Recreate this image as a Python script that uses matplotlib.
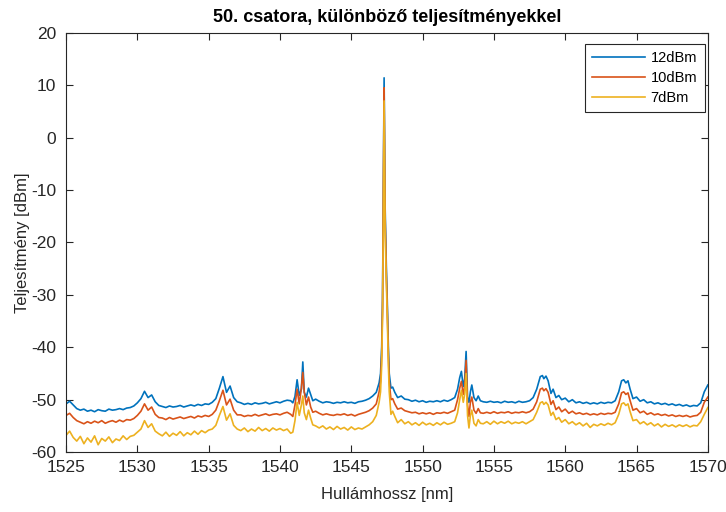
import matplotlib
matplotlib.use('Agg')
from matplotlib import pyplot as plt

# hullámhossz [nm] és a három mért spektrum [dBm]
hullamhossz = [
    1525.00, 1525.25, 1525.50, 1525.75, 1526.00, 1526.25, 1526.50, 1526.75, 1527.00, 1527.25,
    1527.50, 1527.75, 1528.00, 1528.25, 1528.50, 1528.75, 1529.00, 1529.25, 1529.50, 1529.75,
    1530.00, 1530.25, 1530.50, 1530.75, 1531.00, 1531.25, 1531.50,
    1531.75, 1532.00, 1532.25, 1532.50, 1532.75, 1533.00, 1533.25, 1533.50, 1533.75, 1534.00,
    1534.25, 1534.50, 1534.75, 1535.00, 1535.25,
    1535.50, 1535.75, 1536.00, 1536.25, 1536.50, 1536.75, 1537.00,
    1537.25, 1537.50, 1537.75, 1538.00, 1538.25, 1538.50, 1538.75, 1539.00, 1539.25, 1539.50,
    1539.75, 1540.00, 1540.25, 1540.50,
    1540.75, 1540.90, 1541.05, 1541.20, 1541.35, 1541.50, 1541.60, 1541.70, 1541.85, 1542.00,
    1542.15, 1542.30, 1542.50,
    1542.75, 1543.00, 1543.25, 1543.50, 1543.75, 1544.00, 1544.25, 1544.50, 1544.75, 1545.00,
    1545.25, 1545.50, 1545.75, 1546.00, 1546.25, 1546.50,
    1546.75, 1546.95, 1547.05, 1547.13, 1547.19, 1547.24, 1547.27, 1547.30, 1547.33, 1547.37,
    1547.46, 1547.52, 1547.60, 1547.66, 1547.78, 1547.90, 1548.05,
    1548.25, 1548.50, 1548.75, 1549.00, 1549.25, 1549.50, 1549.75, 1550.00, 1550.25, 1550.50,
    1550.75, 1551.00, 1551.25, 1551.50, 1551.75, 1552.00, 1552.25, 1552.45,
    1552.60, 1552.72, 1552.85, 1552.95, 1553.05, 1553.15, 1553.25, 1553.35, 1553.45, 1553.60,
    1553.75, 1553.90, 1554.05,
    1554.25, 1554.50, 1554.75, 1555.00, 1555.25, 1555.50, 1555.75, 1556.00, 1556.25, 1556.50,
    1556.75, 1557.00, 1557.25, 1557.50, 1557.75,
    1558.00, 1558.25, 1558.40, 1558.50, 1558.65, 1558.80, 1559.00, 1559.15, 1559.35, 1559.55,
    1559.75, 1560.00, 1560.25, 1560.50,
    1560.75, 1561.00, 1561.25, 1561.50, 1561.75, 1562.00, 1562.25, 1562.50, 1562.75, 1563.00,
    1563.25, 1563.50, 1563.75,
    1563.95, 1564.10, 1564.25, 1564.40, 1564.55, 1564.75, 1565.00, 1565.25, 1565.50,
    1565.75, 1566.00, 1566.25, 1566.50, 1566.75, 1567.00, 1567.25, 1567.50, 1567.75, 1568.00,
    1568.25, 1568.50, 1568.75, 1569.00, 1569.25, 1569.50, 1569.75, 1570.00,
]

p12 = [
    -50.8, -50.3, -51.0, -51.7, -52.0, -51.8, -52.2, -52.0, -52.3, -51.9,
    -52.1, -52.2, -51.8, -52.0, -51.9, -51.7, -51.9, -51.6, -51.5, -51.2,
    -50.6, -49.8, -48.4, -49.6, -49.1, -50.4, -51.1,
    -51.3, -51.5, -51.2, -51.4, -51.3, -51.1, -51.4, -51.2, -51.0, -51.2,
    -50.9, -51.1, -50.8, -50.9, -50.5,
    -49.8, -47.8, -45.6, -48.6, -47.4, -49.6, -50.4,
    -50.6, -50.9, -50.7, -50.9, -50.6, -50.8, -50.7, -50.5, -50.8, -50.6,
    -50.4, -50.6, -50.3, -50.1,
    -50.2, -50.6, -49.4, -46.2, -49.2, -48.0, -42.8, -48.6, -49.5, -47.8,
    -49.0, -50.2, -49.9,
    -50.3, -50.6, -50.4, -50.5, -50.7, -50.5, -50.6, -50.4, -50.6, -50.5,
    -50.7, -50.4, -50.3, -50.1, -49.8, -49.3,
    -48.6, -46.8, -45.0, -40.0, -31.0, -13.0, 0.0, 11.4, 0.0, -13.0,
    -25.0, -31.0, -40.0, -45.0, -47.8, -47.6, -48.6,
    -49.6, -49.3, -49.9, -50.0, -50.3, -50.1, -50.4, -50.2, -50.5, -50.3,
    -50.4, -50.2, -50.4, -50.1, -50.3, -50.0, -49.6, -48.0,
    -45.8, -44.6, -47.5, -46.0, -40.8, -49.5, -50.5, -48.5, -47.2, -49.6,
    -50.2, -49.3, -50.2,
    -50.4, -50.5, -50.3, -50.5, -50.4, -50.6, -50.3, -50.5, -50.4, -50.6,
    -50.3, -50.5, -50.4, -50.2, -49.6,
    -48.0, -45.6, -45.4, -46.0, -45.5, -46.4, -48.8, -48.0, -49.6, -49.2,
    -50.0, -49.7, -50.4, -50.0,
    -50.6, -50.4, -50.7, -50.5, -50.8, -50.6, -50.8, -50.5, -50.7, -50.5,
    -50.6, -50.2, -48.5,
    -46.4, -46.2, -46.8, -46.4, -48.0, -49.8, -49.5, -50.3, -50.0,
    -50.6, -50.4, -50.8, -50.6, -50.9, -50.7, -51.0, -50.8, -51.1, -50.9,
    -51.2, -51.0, -51.3, -51.1, -51.2, -50.6, -48.5, -47.2,
]

p10 = [
    -53.0, -52.6, -53.4, -54.0, -54.3, -54.6, -54.2, -54.5, -54.1, -54.4,
    -54.0, -54.5, -54.2, -54.0, -54.3, -53.9, -54.2, -53.8, -53.9, -53.6,
    -53.0, -52.2, -50.8, -52.0, -51.4, -52.8, -53.4,
    -53.5, -53.8, -53.4, -53.7, -53.5, -53.3, -53.6, -53.4, -53.2, -53.5,
    -53.1, -53.3, -53.0, -53.2, -52.8,
    -52.0, -50.2, -48.2, -51.0, -49.9, -52.0, -52.9,
    -52.9, -53.2, -53.0, -53.1, -52.8, -53.1, -52.9, -52.7, -53.0, -52.8,
    -52.7, -52.9, -52.6, -52.4,
    -52.8, -53.2, -51.0, -48.0, -50.8, -47.8, -44.8, -48.5, -51.0, -49.5,
    -51.4, -52.4, -52.2,
    -52.6, -52.9, -52.7, -52.9, -53.0, -52.8, -52.9, -52.7, -53.0, -52.8,
    -53.1, -52.8, -52.6, -52.4, -52.1, -51.6,
    -50.8, -48.5, -46.5, -41.5, -32.5, -15.0, -2.0, 9.5, -2.0, -15.0,
    -26.5, -32.5, -41.5, -46.5, -50.0, -49.8, -50.8,
    -51.8, -51.6, -52.1, -52.3, -52.5, -52.4, -52.7, -52.5, -52.7, -52.5,
    -52.8, -52.5, -52.6, -52.4, -52.6, -52.3, -52.0, -50.0,
    -47.8, -46.5, -49.0, -47.5, -42.5, -51.0, -53.2, -50.5, -49.5, -52.0,
    -52.6, -51.7, -52.5,
    -52.6, -52.4, -52.6, -52.3, -52.6, -52.4, -52.5, -52.3, -52.6, -52.4,
    -52.5, -52.3, -52.5, -52.3, -51.8,
    -50.4, -48.0, -47.8, -48.3, -47.9, -48.6, -50.9, -50.2, -51.9, -51.4,
    -52.3, -51.8, -52.6, -52.2,
    -52.7, -52.5, -52.8, -52.6, -52.9, -52.7, -52.9, -52.6, -52.8, -52.6,
    -52.7, -52.4, -50.8,
    -48.7, -48.5, -49.0, -48.7, -50.2, -52.0, -51.7, -52.5, -52.2,
    -52.8, -52.5, -52.9, -52.7, -53.0, -52.8, -53.1, -52.9, -53.2, -53.0,
    -53.2, -53.0, -53.3, -53.1, -53.0, -52.4, -50.5, -49.5,
]

p7 = [
    -56.8, -56.0, -57.2, -57.9, -57.0, -58.4, -57.3, -58.1, -56.9, -58.6,
    -57.4, -57.9, -57.1, -58.2, -57.5, -57.8, -56.9, -57.6, -57.0, -56.8,
    -56.2, -55.6, -54.0, -55.3, -54.6, -56.0, -56.5,
    -56.9, -56.2, -57.0, -56.4, -56.8, -56.1, -56.9, -56.3, -56.7, -56.0,
    -56.6, -55.9, -56.3, -55.8, -55.6,
    -54.9, -53.0, -51.3, -53.9, -52.7, -54.9, -55.6,
    -55.9, -55.4, -56.1, -55.6, -56.0, -55.3, -55.9, -55.5, -56.0, -55.4,
    -55.8, -55.5, -55.9, -55.6,
    -56.4, -56.2, -54.0, -50.5, -53.0, -51.0, -49.3, -52.5, -53.8, -52.0,
    -53.5, -54.8, -55.0,
    -55.4, -55.0, -55.6, -55.2, -55.7, -55.1, -55.6, -55.3, -55.8, -55.2,
    -55.7, -55.4, -55.6, -55.2, -54.8, -54.2,
    -53.0, -50.5, -48.5, -43.5, -34.0, -17.5, -4.5, 7.0, -4.5, -17.5,
    -28.0, -34.0, -43.5, -48.5, -52.8, -52.2, -53.2,
    -54.4, -53.8, -54.6, -54.2, -54.8, -54.4, -54.9, -54.3, -54.8, -54.5,
    -54.9, -54.4, -54.8, -54.3, -54.7, -54.5, -54.2, -52.5,
    -50.0, -48.2, -50.5, -49.0, -45.0, -53.0, -55.4, -53.0, -52.0, -54.5,
    -55.0, -53.8, -54.5,
    -54.6, -54.2, -54.7, -54.1, -54.6, -54.2, -54.5, -54.1, -54.6, -54.3,
    -54.5, -54.2, -54.6, -54.2, -53.8,
    -52.4, -50.6, -50.4, -50.9, -50.5, -51.0, -53.0, -52.4, -53.8, -53.4,
    -54.3, -53.8, -54.6, -54.2,
    -54.8, -54.4, -55.0, -54.5, -55.3, -54.7, -55.0, -54.6, -54.9, -54.5,
    -54.8, -54.4, -52.8,
    -50.8, -50.6, -51.1, -50.8, -52.3, -54.0, -53.8, -54.6, -54.2,
    -54.8, -54.4, -55.0, -54.6, -55.2, -54.7, -55.1, -54.8, -55.2, -54.8,
    -55.1, -54.8, -55.2, -54.9, -55.0, -54.2, -52.8, -51.5,
]

cimkek = ['12dBm', '10dBm', '7dBm']
szinek = ['#0072BD', '#D95319', '#EDB120']

plt.rcParams['font.family'] = ['Liberation Sans', 'DejaVu Sans']
plt.rcParams['axes.unicode_minus'] = False

fig = plt.figure(figsize=(7.26, 5.12), dpi=100)
ax = fig.add_axes([0.091, 0.117, 0.884, 0.819])

for adat, cimke, szin in zip([p12, p10, p7], cimkek, szinek):
    ax.plot(hullamhossz, adat, color=szin, linewidth=1.2, label=cimke)

ax.set_xlim(1525, 1570)
ax.set_ylim(-60, 20)
ax.set_xticks(range(1525, 1571, 5))
ax.set_yticks(range(-60, 21, 10))
ax.tick_params(direction='in', top=True, right=True, labelsize=12.5,
               colors='#262626', length=5, width=0.8)
ax.tick_params(axis='x', pad=6)
ax.tick_params(axis='y', pad=7)
for s in ax.spines.values():
    s.set_color('#262626')
    s.set_linewidth(0.8)

ax.set_xlabel('Hullámhossz [nm]', fontsize=12, color='#262626', labelpad=8)
ax.set_ylabel('Teljesítmény [dBm]', fontsize=12, color='#262626', labelpad=1)
ax.set_title('50. csatora, különböző teljesítményekkel', fontsize=13,
             fontweight='bold', pad=8)

leg = ax.legend(loc='upper right', bbox_to_anchor=(0.995, 0.974), fontsize=10.5,
                handlelength=3.6, handletextpad=0.4, borderpad=0.5,
                labelspacing=0.4, borderaxespad=0, fancybox=False, framealpha=1)
leg.get_frame().set_edgecolor('#262626')
leg.get_frame().set_linewidth(0.8)

fig.savefig('out.png')
